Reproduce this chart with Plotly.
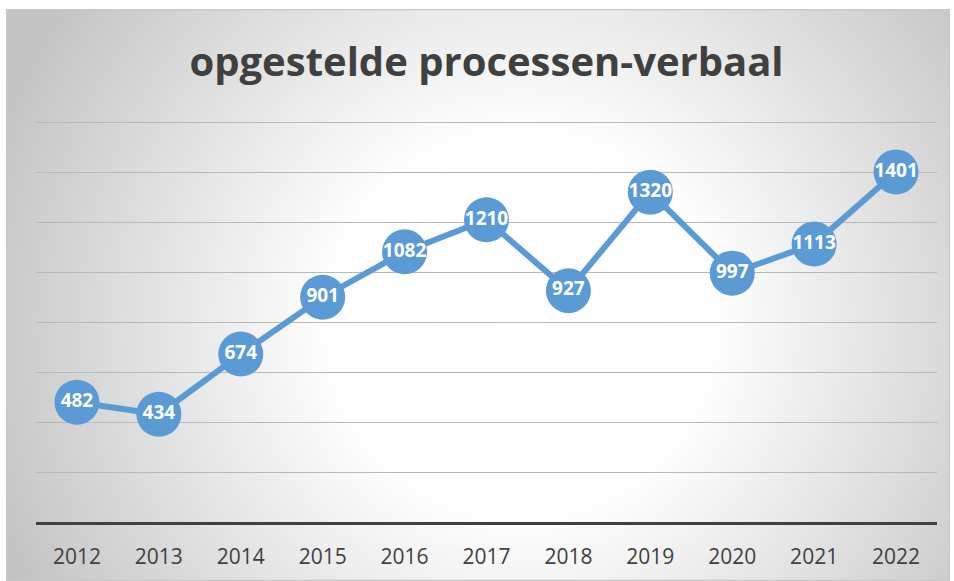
import base64
import plotly.graph_objects as go

years = ["2012", "2013", "2014", "2015", "2016", "2017", "2018", "2019", "2020", "2021", "2022"]
values = [482, 434, 674, 901, 1082, 1210, 927, 1320, 997, 1113, 1401]
title_text = "opgestelde processen-verbaal"

W, H = 954, 581
L, R, T, B = 36, 17, 117, 58
pw, ph = W - L - R, H - T - B

# chart box background (radial gradient) as SVG
bx0, by0, bw, bh = 6, 9, 944, 572
svg = (
    f"<svg xmlns='http://www.w3.org/2000/svg' width='{bw}' height='{bh}' viewBox='0 0 {bw} {bh}' preserveAspectRatio='none'>"
    "<defs><radialGradient id='g' gradientUnits='userSpaceOnUse' cx='515' cy='315' r='570'>"
    "<stop offset='0' stop-color='#ffffff'/>"
    "<stop offset='0.35' stop-color='#fdfdfd'/>"
    "<stop offset='1' stop-color='#c2c2c2'/>"
    "</radialGradient></defs>"
    f"<rect x='0.5' y='0.5' width='{bw-1}' height='{bh-1}' fill='url(#g)' stroke='#c8c8c8' stroke-width='1.5'/>"
    "</svg>"
)
src = "data:image/svg+xml;base64," + base64.b64encode(svg.encode()).decode()

fig = go.Figure()
fig.add_trace(go.Scatter(
    x=years, y=values,
    mode="lines+markers+text",
    line=dict(color="#5b9bd5", width=6),
    marker=dict(color="#5b9bd5", size=45, line=dict(width=0)),
    text=[str(v) for v in values],
    textposition="middle center",
    textfont=dict(family="Open Sans", size=19, color="white", weight="bold"),
    cliponaxis=False,
    hoverinfo="skip",
))

fig.update_layout(
    width=W, height=H,
    margin=dict(l=L, r=R, t=T, b=B),
    paper_bgcolor="white",
    plot_bgcolor="rgba(0,0,0,0)",
    showlegend=False,
    title=dict(
        text=f"<b>{title_text}</b>",
        x=0.5, xref="paper", xanchor="center",
        y=1 - 62 / H, yref="container", yanchor="middle",
        font=dict(family="Open Sans", size=40, color="#404040"),
    ),
    images=[dict(
        source=src, xref="paper", yref="paper",
        x=(bx0 - L) / pw, y=(H - B - by0) / ph,
        sizex=bw / pw, sizey=bh / ph,
        xanchor="left", yanchor="top",
        sizing="stretch", layer="below",
    )],
    xaxis=dict(
        type="category",
        range=[-0.5, len(years) - 0.5],
        showgrid=False, zeroline=False,
        showline=False, ticks="",
        ticklabelstandoff=19,
        tickfont=dict(family="Open Sans", size=21, color="#404040"),
        fixedrange=True,
    ),
    yaxis=dict(
        range=[0, 1620],
        tickvals=[200, 400, 600, 800, 1000, 1200, 1400, 1600],
        showgrid=True, gridcolor="#b8b8b8", gridwidth=1.3,
        zeroline=True, zerolinecolor="#404040", zerolinewidth=3,
        showticklabels=False, ticks="",
        fixedrange=True,
    ),
)

fig.write_html("out.html", config={"displayModeBar": False},
               post_script="document.body.style.margin='0';")
